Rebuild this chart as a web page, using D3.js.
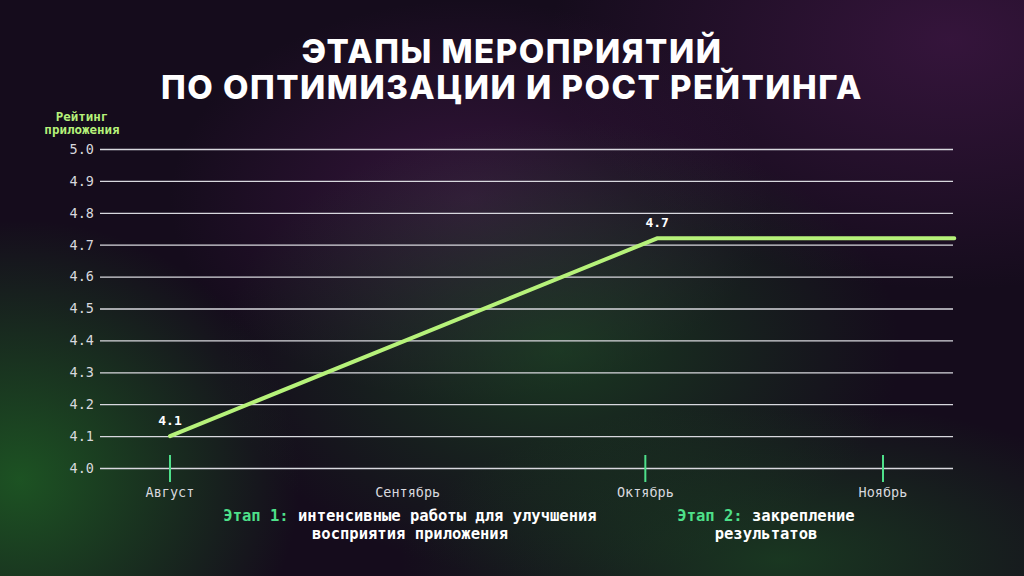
<!DOCTYPE html>
<html><head><meta charset="utf-8">
<script src="https://cdn.jsdelivr.net/npm/d3@7"></script>
<style>body{margin:0;background:#140a1a}svg{display:block}</style>
</head><body>
<script>
const yTicks=[4.0,4.1,4.2,4.3,4.4,4.5,4.6,4.7,4.8,4.9,5.0];
const months=["Август","Сентябрь","Октябрь","Ноябрь"];
const monthPos=[0,1,2,3];
const stageTickPos=[0,2,3];
const lineX=[0,2.05,3.3];
const lineY=[4.1,4.72,4.72];
const pointLabels=["4.1","4.7",""];
const W=1024,H=576;
const svg=d3.select("body").append("svg").attr("width",W).attr("height",H);
const defs=svg.append("defs");
function rg(id,stops){const g=defs.append("radialGradient").attr("id",id);stops.forEach(s=>g.append("stop").attr("offset",s[0]).attr("stop-color",s[1]).attr("stop-opacity",s[2]));}
rg("g1",[[0,"#1f6a25",0.75],[1,"#1f6a25",0]]);
rg("g2",[[0,"#1d5a25",0.55],[1,"#1d5a25",0]]);
rg("p1",[[0,"#4a1a50",0.6],[1,"#4a1a50",0]]);
svg.append("rect").attr("width",W).attr("height",H).attr("fill","#150c1c");
svg.append("ellipse").attr("cx",950).attr("cy",40).attr("rx",400).attr("ry",250).attr("fill","url(#p1)");
svg.append("ellipse").attr("cx",470).attr("cy",200).attr("rx",300).attr("ry",200).attr("fill","url(#p1)");
svg.append("ellipse").attr("cx",20).attr("cy",480).attr("rx",280).attr("ry",260).attr("fill","url(#g1)");
svg.append("ellipse").attr("cx",560).attr("cy",350).attr("rx",340).attr("ry",230).attr("fill","url(#g2)");
svg.append("ellipse").attr("cx",780).attr("cy",560).attr("rx",380).attr("ry",160).attr("fill","url(#g2)");
const x=d3.scaleLinear().domain([0,3]).range([170,883]);
const y=d3.scaleLinear().domain([4,5]).range([468,149]);
const mono="'DejaVu Sans Mono',monospace";
svg.append("text").attr("x",512).attr("y",63).attr("text-anchor","middle").attr("fill","#fff")
 .attr("font-family","Inter,'Open Sans',sans-serif").attr("font-weight",800).attr("font-size",33).attr("letter-spacing",1.5)
 .selectAll("tspan").data(["ЭТАПЫ МЕРОПРИЯТИЙ","ПО ОПТИМИЗАЦИИ И РОСТ РЕЙТИНГА"]).join("tspan")
 .attr("x",512).attr("dy",(d,i)=>i?36:0).text(d=>d);
svg.append("text").attr("fill","#b6f27a").attr("font-family",mono).attr("font-weight","bold").attr("font-size",12.5).attr("text-anchor","middle")
 .selectAll("tspan").data(["Рейтинг","приложения"]).join("tspan").attr("x",82).attr("y",(d,i)=>121+i*13).text(d=>d);
const ax=svg.append("g").attr("transform","translate(100,0)").call(d3.axisLeft(y).tickValues(yTicks).tickFormat(d3.format(".1f")).tickSize(-853).tickPadding(6));
ax.select(".domain").remove();
ax.selectAll("line").attr("stroke","#d8d8de").attr("stroke-width",1.3);
ax.selectAll("text").attr("fill","#d8d8de").attr("font-family",mono).attr("font-size",13.5);
svg.selectAll(".st").data(stageTickPos).join("line").attr("x1",d=>x(d)).attr("x2",d=>x(d)).attr("y1",455).attr("y2",482).attr("stroke","#4ee08a").attr("stroke-width",2);
svg.selectAll(".mo").data(months).join("text").attr("x",(d,i)=>x(monthPos[i])).attr("y",497).attr("text-anchor","middle")
 .attr("fill","#d8d8de").attr("font-family",mono).attr("font-size",13.5).text(d=>d);
const pts=lineX.map((v,i)=>[v,lineY[i]]);
svg.append("path").attr("d",d3.line().x(d=>x(d[0])).y(d=>y(d[1]))(pts)).attr("fill","none").attr("stroke","#b6f27a").attr("stroke-width",4).attr("stroke-linecap","round");
svg.selectAll(".pl").data(pts).join("text").attr("x",d=>x(d[0])).attr("y",d=>y(d[1])-11).attr("text-anchor","middle")
 .attr("fill","#fff").attr("font-family",mono).attr("font-weight","bold").attr("font-size",13).text((d,i)=>pointLabels[i]);
function ann(cx,parts,line2){
 const t=svg.append("text").attr("x",cx).attr("y",521).attr("text-anchor","middle").attr("font-family",mono).attr("font-weight","bold").attr("font-size",15.5);
 t.append("tspan").attr("fill","#4ee08a").text(parts[0]);
 t.append("tspan").attr("fill","#fff").text(parts[1]);
 svg.append("text").attr("x",cx).attr("y",539).attr("text-anchor","middle").attr("font-family",mono).attr("font-weight","bold").attr("font-size",15.5).attr("fill","#fff").text(line2);
}
ann(410,["Этап 1: ","интенсивные работы для улучшения"],"восприятия приложения");
ann(766,["Этап 2: ","закрепление"],"результатов");
</script></body></html>
